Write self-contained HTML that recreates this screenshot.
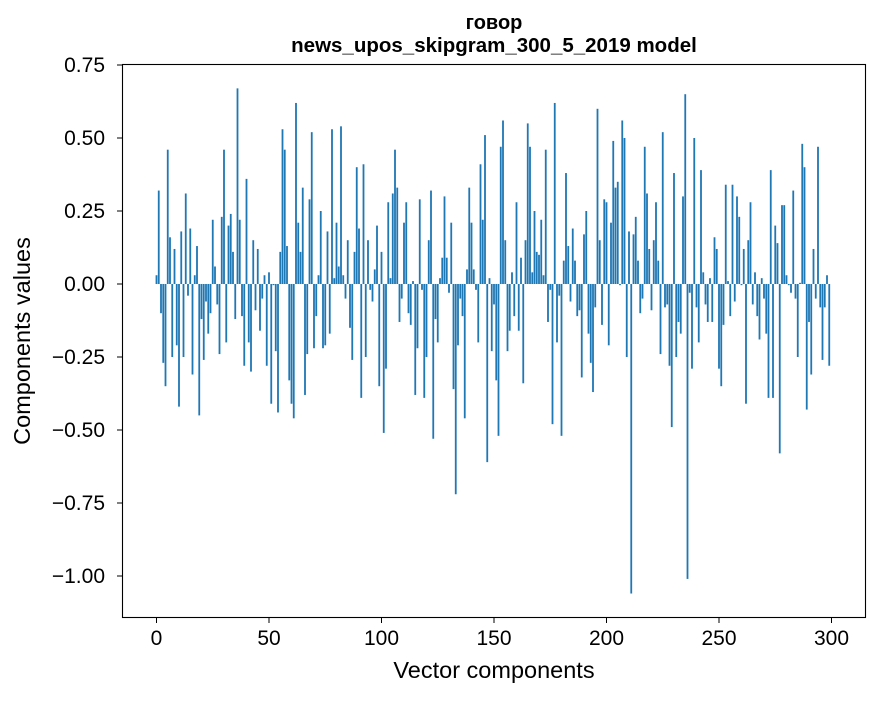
<!DOCTYPE html>
<html><head><meta charset="utf-8"><style>
body{margin:0;background:#fff;}
svg text{font-family:"Liberation Sans","DejaVu Sans",sans-serif;}
</style></head><body>
<svg id="chart" width="880" height="696" xmlns="http://www.w3.org/2000/svg">
<rect width="880" height="696" fill="#fff"/>
<text x="494" y="29" text-anchor="middle" font-size="20" font-weight="bold">говор</text>
<text x="494" y="52" text-anchor="middle" font-size="20.5" font-weight="bold">news_upos_skipgram_300_5_2019 model</text>
<g id="bars"></g>
<rect x="122.5" y="64.5" width="743" height="553" fill="none" stroke="#000" stroke-width="1.1"/>
<g id="xticks"></g>
<g id="yticks"></g>
<text x="494" y="678" text-anchor="middle" font-size="23.5">Vector components</text>
<text transform="translate(30,341) rotate(-90)" text-anchor="middle" font-size="23.5">Components values</text>
</svg>
<script>
const values = [
0.03,0.32,-0.10,-0.27,-0.35,0.46,0.16,-0.25,0.12,-0.21,-0.42,0.18,-0.25,0.31,-0.04,0.19,-0.31,0.03,0.13,-0.45,
-0.12,-0.26,-0.06,-0.17,-0.10,0.22,0.06,-0.07,-0.24,0.23,0.46,-0.20,0.20,0.24,0.11,-0.12,0.67,0.22,-0.11,-0.28,
0.36,-0.20,-0.30,0.15,-0.09,0.12,-0.16,
-0.05,0.03,-0.28,0.04,-0.41,-0.004,-0.23,-0.44,0.11,0.53,0.46,0.13,-0.33,-0.41,-0.46,0.62,0.21,0.11,0.33,-0.38,
-0.24,0.29,0.52,-0.22,-0.11,0.03,0.25,-0.22,-0.21,0.18,-0.17,0.53,0.02,0.21,0.06,0.54,0.03,-0.05,0.15,-0.15,
-0.26,0.11,0.40,0.19,-0.39,0.41,-0.25,0.15,-0.02,-0.06,
0.05,0.20,-0.35,0.11,-0.51,-0.29,0.28,0.02,0.31,0.46,0.33,-0.13,-0.05,0.21,0.28,-0.10,-0.14,0.01,-0.38,-0.22,
0.29,-0.02,-0.39,-0.25,0.15,0.32,-0.53,-0.12,-0.20,0.02,0.09,0.30,0.09,-0.03,0.21,-0.36,-0.72,-0.21,-0.05,-0.11,
-0.46,0.05,0.33,0.21,0.05,-0.02,-0.20,0.41,0.22,
0.51,-0.61,0.02,-0.23,-0.07,-0.33,-0.52,0.47,0.56,0.15,-0.23,-0.16,0.04,-0.11,0.28,-0.16,0.09,-0.34,0.15,0.55,
0.47,0.04,0.25,0.11,0.10,0.22,0.03,0.46,-0.13,-0.02,-0.48,0.62,-0.20,-0.04,-0.52,0.08,0.38,0.13,-0.06,0.19,
0.08,-0.11,-0.09,-0.32,0.17,0.25,-0.17,-0.27,-0.37,-0.08,
0.60,0.15,-0.14,0.29,0.28,-0.21,0.21,0.49,0.33,0.35,-0.004,0.56,0.50,-0.25,0.18,-1.06,0.17,0.23,0.08,-0.10,
-0.05,0.47,0.31,0.12,-0.09,0.15,0.28,0.08,-0.24,0.52,-0.08,-0.07,-0.28,-0.49,0.38,-0.25,-0.13,-0.17,0.30,0.65,
-1.01,-0.03,-0.29,0.50,-0.08,-0.20,0.39,0.04,-0.07,-0.13,
0.02,-0.13,0.16,0.12,-0.29,-0.35,-0.14,0.34,0.01,-0.11,0.34,-0.06,0.30,0.23,-0.004,0.12,-0.41,0.15,0.28,-0.07,
0.04,-0.11,-0.19,0.02,-0.05,-0.17,-0.39,0.39,-0.39,0.20,0.14,-0.58,0.27,0.27,0.03,-0.004,-0.03,0.32,-0.05,-0.25,
0.004,0.48,0.40,-0.43,-0.13,-0.31,0.12,-0.05,0.47,-0.08,-0.26,-0.08,0.03,-0.28
];
const xTicks = [0,50,100,150,200,250,300];
const yTicks = [0.75,0.50,0.25,0.00,-0.25,-0.50,-0.75,-1.00];
const yTickLabels = ["0.75","0.50","0.25","0.00","\u22120.25","\u22120.50","\u22120.75","\u22121.00"];

const NS="http://www.w3.org/2000/svg";
const xScale = v => 156.5 + v*2.25;
const yScale = v => 284 - v*292;
const barsG=document.getElementById('bars');
values.forEach((v,i)=>{
  const r=document.createElementNS(NS,'rect');
  const y0=yScale(0), y1=yScale(v);
  r.setAttribute('x',xScale(i)-0.9);
  r.setAttribute('width',1.8);
  r.setAttribute('y',Math.min(y0,y1));
  r.setAttribute('height',Math.max(Math.abs(y1-y0),0.3));
  r.setAttribute('fill','#1f77b4');
  
  
  barsG.appendChild(r);
});
const xg=document.getElementById('xticks');
xTicks.forEach(t=>{
  const x=xScale(t);
  const l=document.createElementNS(NS,'line');
  l.setAttribute('x1',x);l.setAttribute('x2',x);l.setAttribute('y1',618);l.setAttribute('y2',623);
  l.setAttribute('stroke','#000');
  
  
  xg.appendChild(l);
  const tx=document.createElementNS(NS,'text');
  tx.setAttribute('x',x);tx.setAttribute('y',645);tx.setAttribute('text-anchor','middle');tx.setAttribute('font-size','21');
  tx.textContent=String(t);
  
  
  xg.appendChild(tx);
});
const yg=document.getElementById('yticks');
yTicks.forEach((t,k)=>{
  const y=yScale(t);
  const l=document.createElementNS(NS,'line');
  l.setAttribute('x1',117);l.setAttribute('x2',122);l.setAttribute('y1',y);l.setAttribute('y2',y);
  l.setAttribute('stroke','#000');
  
  
  yg.appendChild(l);
  const tx=document.createElementNS(NS,'text');
  tx.setAttribute('x',105);tx.setAttribute('y',y+7);tx.setAttribute('text-anchor','end');tx.setAttribute('font-size','21');
  tx.textContent=yTickLabels[k];
  
  
  yg.appendChild(tx);
});
</script>
</body></html>
